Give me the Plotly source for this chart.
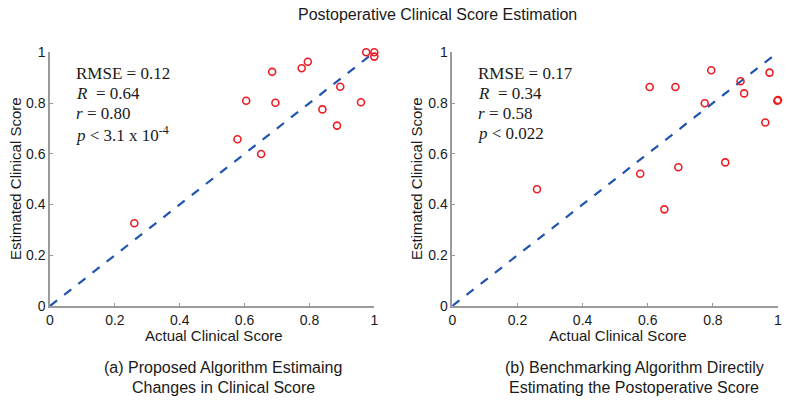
import plotly.graph_objects as go

# Data
act_a = [0.975, 1.0, 1.0, 0.685, 0.776, 0.795, 0.605, 0.695, 0.895, 0.840, 0.959, 0.885, 0.578, 0.651, 0.260]
est_a = [1.0, 1.0, 0.983, 0.923, 0.937, 0.963, 0.809, 0.801, 0.864, 0.775, 0.803, 0.711, 0.657, 0.599, 0.326]

act_b = [0.606, 0.685, 0.795, 0.885, 0.974, 0.896, 0.775, 1.0, 0.998, 0.961, 0.838, 0.694, 0.577, 0.260, 0.651]
est_b = [0.863, 0.863, 0.929, 0.886, 0.920, 0.838, 0.799, 0.812, 0.809, 0.723, 0.566, 0.547, 0.521, 0.460, 0.381]

diag = [0, 1]
ticks = [0, 0.2, 0.4, 0.6, 0.8, 1]
tick_text = ["0", "0.2", "0.4", "0.6", "0.8", "1"]

stats_a = ["RMSE = 0.12", "<i>R</i>\u00a0 = 0.64", "<i>r</i> = 0.80", "<i>p</i> < 3.1 x 10<sup>-4</sup>"]
stats_b = ["RMSE = 0.17", "<i>R</i>\u00a0 = 0.34", "<i>r</i> = 0.58", "<i>p</i> < 0.022"]

title = "Postoperative Clinical Score Estimation"
sub_a = ["(a) Proposed Algorithm Estimaing", "Changes in Clinical Score"]
sub_b = ["(b) Benchmarking Algorithm Directily", "Estimating the Postoperative Score"]
xlab = "Actual Clinical Score"
ylab = "Estimated Clinical Score"

RED = "#ee1c24"
BLUE = "#1f55b0"
GRAY = "#9a9a9a"
TXT = "#1a1a1a"
SANS = "Liberation Sans, Arial, sans-serif"
SERIF = "Liberation Serif, Times New Roman, serif"

W, H = 793, 401


def fx(px):
    return px / W


def fy(py):
    return 1 - py / H


fig = go.Figure()
for i, (ax, ay) in enumerate([(act_a, est_a), (act_b, est_b)]):
    xa = "x" if i == 0 else "x2"
    ya = "y" if i == 0 else "y2"
    fig.add_trace(go.Scatter(x=diag, y=diag, mode="lines", xaxis=xa, yaxis=ya,
                             line=dict(color=BLUE, width=2.2, dash="dash"),
                             showlegend=False, hoverinfo="skip"))
    fig.add_trace(go.Scatter(x=ax, y=ay, mode="markers", xaxis=xa, yaxis=ya,
                             marker=dict(symbol="circle-open", size=7, color=RED,
                                         line=dict(color=RED, width=1.6)),
                             showlegend=False, cliponaxis=False))

ydom = [fy(306), fy(52.3)]
xdom_a = [fx(50), fx(374.3)]
xdom_b = [fx(452.3), fx(778)]

axis_common = dict(range=[0, 1], tickvals=ticks, ticktext=tick_text, ticks="inside",
                   ticklen=3, tickcolor=GRAY, showline=True, linecolor=GRAY, linewidth=1.5,
                   showgrid=False, zeroline=False, automargin=False,
                   tickfont=dict(family=SANS, size=14, color=TXT), fixedrange=True)

fig.update_layout(
    width=W, height=H,
    margin=dict(l=0, r=0, t=0, b=0),
    paper_bgcolor="white", plot_bgcolor="white",
    xaxis=dict(domain=xdom_a, anchor="y", **axis_common),
    yaxis=dict(domain=ydom, anchor="x", **axis_common),
    xaxis2=dict(domain=xdom_b, anchor="y2", **axis_common),
    yaxis2=dict(domain=ydom, anchor="x2", **axis_common),
)


def txt(text, px, py, size, family=SANS, angle=0, xanchor="center"):
    return dict(text=text, x=fx(px), y=fy(py), xref="paper", yref="paper",
                showarrow=False, textangle=angle, font=dict(family=family, size=size, color=TXT),
                xanchor=xanchor, yanchor="middle")


ann = [txt(title, 437, 14, 16)]
panels = [(50, sub_a, stats_a, 15, 214, 223), (452.3, sub_b, stats_b, 416, 617.5, 634)]
for (x0, sub, stats, ylx, xlx, subx) in panels:
    ann.append(txt(xlab, xlx, 335, 15))
    ann.append(txt(ylab, ylx, 179, 15, angle=-90))
    ann.append(txt(sub[0], subx, 367, 16))
    ann.append(txt(sub[1], subx, 387, 16))
    for k, s in enumerate(stats):
        ann.append(txt(s, x0 + 24, 73 + 20.2 * k, 17, family=SERIF, xanchor="left"))
fig.update_layout(annotations=ann)

# remove the default 8px body margin so the figure fills the window exactly
fig.write_html("out.html", config={"displayModeBar": False},
               post_script="document.body.style.margin='0px';")
